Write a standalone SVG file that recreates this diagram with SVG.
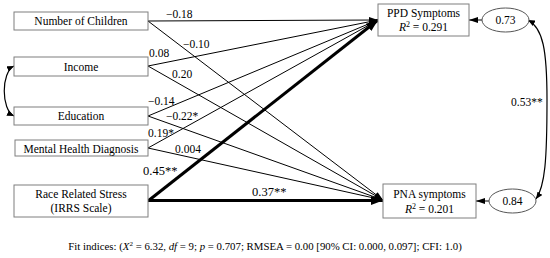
<svg xmlns="http://www.w3.org/2000/svg" width="550" height="258" viewBox="0 0 550 258">
<style>
text{font-family:"Liberation Serif","Times New Roman",serif;fill:#000}
.box{fill:#fff;stroke:#7f7f7f;stroke-width:1}
.lbl{font-size:11.5px;text-anchor:middle}
.c{font-size:11.5px}
.cb{font-size:12.5px}
.thin{stroke:#000;stroke-width:1;fill:none;marker-end:url(#ah)}
.thick{stroke:#000;stroke-width:3;fill:none;marker-end:url(#ahb)}
.ell{fill:#fff;stroke:#555;stroke-width:1}
.cv{stroke:#000;stroke-width:1.2;fill:none;marker-start:url(#ah2);marker-end:url(#ah2)}
</style>
<defs>
<marker id="ah" markerUnits="userSpaceOnUse" markerWidth="9" markerHeight="7" refX="9" refY="3.5" orient="auto"><path d="M0,0.5 L9,3.5 L0,6.5 Z" fill="#000"/></marker>
<marker id="ahb" markerUnits="userSpaceOnUse" markerWidth="12" markerHeight="9" refX="12" refY="4.5" orient="auto"><path d="M0,0 L12,4.5 L0,9 Z" fill="#000"/></marker>
<marker id="ah2" markerUnits="userSpaceOnUse" markerWidth="7" markerHeight="6" refX="7" refY="3" orient="auto-start-reverse"><path d="M0,0 L7,3 L0,6 Z" fill="#000"/></marker>
</defs>
<g id="connectors">
<line class="thin" x1="148" y1="21" x2="378" y2="20"/>
<line class="thin" x1="148" y1="66" x2="378" y2="20"/>
<line class="thin" x1="148" y1="116" x2="378" y2="20"/>
<line class="thin" x1="148" y1="148" x2="378" y2="20"/>
<line class="thick" x1="148" y1="201" x2="378" y2="20"/>
<line class="thin" x1="148" y1="21" x2="383" y2="200"/>
<line class="thin" x1="148" y1="66" x2="383" y2="200"/>
<line class="thin" x1="148" y1="116" x2="383" y2="200"/>
<line class="thin" x1="148" y1="148" x2="383" y2="200"/>
<line class="thick" x1="148" y1="200.5" x2="383" y2="200.5"/>
<line class="thin" x1="482" y1="20" x2="469" y2="20"/>
<line class="thin" x1="489" y1="201" x2="476" y2="201"/>
<path class="cv" d="M14,66 C1,72 1,110 14,116"/>
<path class="cv" d="M528,20 C543,28 547,50 547,100 C547,160 545,186 536,199"/>
<text class="c" x="166" y="18">−0.18</text>
<text class="c" x="183" y="48">−0.10</text>
<text class="c" x="149" y="57">0.08</text>
<text class="c" x="172" y="78">0.20</text>
<text class="c" x="148" y="105">−0.14</text>
<text class="c" x="166" y="120">−0.22*</text>
<text class="c" x="148" y="137">0.19*</text>
<text class="c" x="175" y="153">0.004</text>
<text class="cb" x="143" y="175">0.45**</text>
<text class="cb" x="252" y="196">0.37**</text>
<text class="c" x="511" y="106">0.53**</text>
</g>
<g id="n-children"><rect class="box" x="14" y="12" width="134" height="18"/><text class="lbl" x="81" y="25">Number of Children</text></g>
<g id="n-income"><rect class="box" x="14" y="57" width="134" height="19"/><text class="lbl" x="81" y="71">Income</text></g>
<g id="n-education"><rect class="box" x="14" y="107" width="134" height="18"/><text class="lbl" x="81" y="120">Education</text></g>
<g id="n-mhd"><rect class="box" x="15" y="140" width="133" height="16"/><text class="lbl" x="81" y="153">Mental Health Diagnosis</text></g>
<g id="n-rrs"><rect class="box" x="14" y="185" width="134" height="32"/><text class="lbl" x="81" y="198">Race Related Stress</text><text class="lbl" x="81" y="212">(IRRS Scale)</text></g>
<g id="n-ppd"><rect class="box" x="378" y="4" width="91" height="32"/><text class="lbl" x="423.5" y="17">PPD Symptoms</text><text class="lbl" x="423.5" y="31"><tspan font-style="italic">R</tspan><tspan font-size="8" dy="-4">2</tspan><tspan dy="4"> = 0.291</tspan></text></g>
<g id="n-pna"><rect class="box" x="383" y="184" width="93" height="34"/><text class="lbl" x="429.5" y="198">PNA symptoms</text><text class="lbl" x="429.5" y="213"><tspan font-style="italic">R</tspan><tspan font-size="8" dy="-4">2</tspan><tspan dy="4"> = 0.201</tspan></text></g>
<g id="e-ppd"><ellipse class="ell" cx="505.5" cy="20" rx="23.5" ry="12"/><text class="lbl" x="505.5" y="24">0.73</text></g>
<g id="e-pna"><ellipse class="ell" cx="512.5" cy="201" rx="23.5" ry="12"/><text class="lbl" x="512.5" y="205">0.84</text></g>
<text x="265" y="250" font-size="10.8" text-anchor="middle">Fit indices: (<tspan font-style="italic">X</tspan><tspan font-size="7" dy="-4">2</tspan><tspan dy="4"> = 6.32, </tspan><tspan font-style="italic">df</tspan> = 9; <tspan font-style="italic">p</tspan> = 0.707; RMSEA = 0.00 [90% CI: 0.000, 0.097]; CFI: 1.0)</text>
</svg>
